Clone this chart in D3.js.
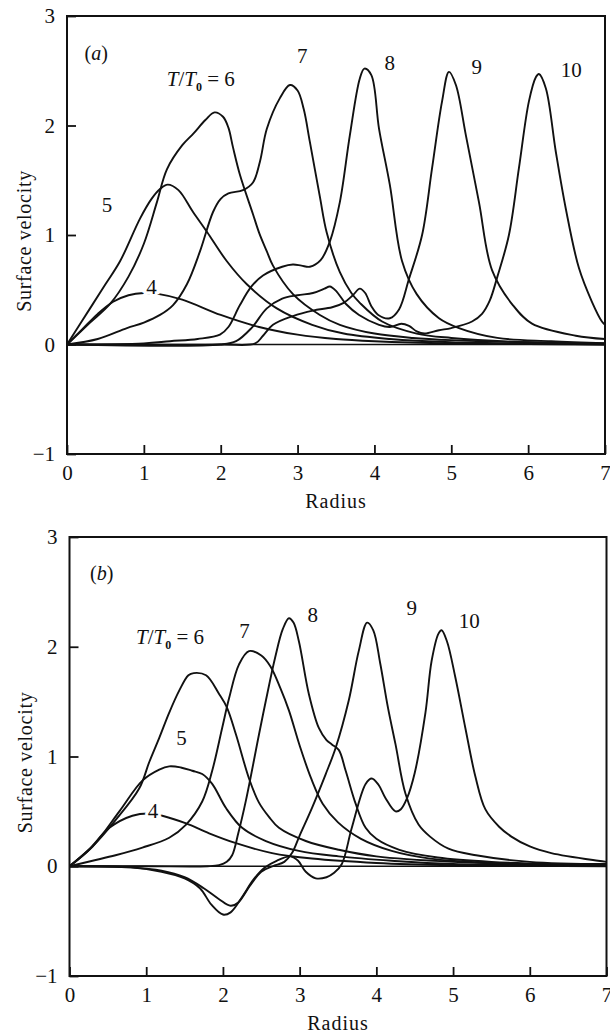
<!DOCTYPE html>
<html>
<head>
<meta charset="utf-8">
<script src="https://cdn.jsdelivr.net/npm/d3@7"></script>
<style>
  html, body { margin: 0; padding: 0; background: #fff; }
  svg { display: block; }
  text { font-family: "Liberation Serif", "Times New Roman", serif; fill: #111; }
</style>
</head>
<body>
<svg id="chart" width="610" height="1035"></svg>
<script>
// Axis ticks shared by both panels
const radiusTicks = [0, 1, 2, 3, 4, 5, 6, 7];
const velocityTicks = [-1, 0, 1, 2, 3];

// Panel (a): surface velocity profiles, [radius, velocity]
const a4 = [[0,0],[0.2,0.14],[0.4,0.28],[0.6,0.39],[0.8,0.45],[1.0,0.47],[1.2,0.46],[1.5,0.41],[2.0,0.27],[2.5,0.16],[3.0,0.09],[3.5,0.05],[4.0,0.03],[5.0,0.01],[6.0,0.005],[7.0,0]];
const a5 = [[0,0],[0.3,0.33],[0.5,0.55],[0.69,0.76],[0.95,1.15],[1.1,1.33],[1.21,1.42],[1.31,1.46],[1.45,1.41],[1.64,1.21],[1.82,1.03],[2.08,0.76],[2.34,0.55],[2.73,0.33],[3.19,0.18],[3.6,0.1],[4.2,0.05],[5.0,0.02],[6,0.01],[7,0]];
const a6 = [[0,0],[0.3,0.2],[0.56,0.37],[0.8,0.62],[1.0,0.92],[1.17,1.3],[1.3,1.6],[1.5,1.82],[1.65,1.93],[1.8,2.05],[1.92,2.12],[2.03,2.08],[2.1,1.98],[2.16,1.8],[2.25,1.55],[2.42,1.19],[2.5,1.02],[2.6,0.85],[2.68,0.72],[2.94,0.46],[3.29,0.27],[3.55,0.18],[4.0,0.1],[4.5,0.06],[5,0.04],[6,0.02],[7,0.01]];
const a7 = [[0,0],[0.4,0.05],[0.78,0.15],[1.0,0.2],[1.21,0.27],[1.38,0.36],[1.56,0.55],[1.73,0.85],[1.9,1.21],[2.0,1.33],[2.1,1.38],[2.29,1.41],[2.42,1.48],[2.51,1.67],[2.6,1.97],[2.77,2.25],[2.9,2.37],[3.0,2.32],[3.08,2.15],[3.16,1.85],[3.29,1.35],[3.38,1.02],[3.55,0.66],[3.7,0.47],[3.81,0.38],[4.1,0.21],[4.55,0.1],[5.0,0.06],[6,0.02],[7,0.01]];
const a8 = [[0,0],[1.0,0.01],[1.34,0.03],[1.7,0.05],[1.99,0.09],[2.1,0.16],[2.25,0.36],[2.4,0.53],[2.55,0.63],[2.8,0.71],[2.94,0.73],[3.05,0.72],[3.16,0.71],[3.3,0.77],[3.42,0.94],[3.55,1.3],[3.68,1.91],[3.81,2.43],[3.87,2.52],[3.96,2.46],[4.06,1.97],[4.2,1.46],[4.36,0.76],[4.55,0.46],[4.84,0.24],[5.1,0.15],[5.6,0.06],[6.3,0.03],[7,0.01]];
const a9 = [[0,0],[2.0,0.0],[2.45,0.01],[2.55,0.08],[2.68,0.18],[2.94,0.26],[3.2,0.31],[3.45,0.34],[3.6,0.38],[3.72,0.45],[3.81,0.51],[3.88,0.47],[3.96,0.35],[4.05,0.27],[4.2,0.24],[4.32,0.32],[4.45,0.6],[4.62,1.0],[4.75,1.61],[4.88,2.22],[4.97,2.49],[5.06,2.37],[5.19,1.91],[5.36,1.3],[5.53,0.68],[5.8,0.36],[6.05,0.19],[6.62,0.08],[7,0.05]];
const a10 = [[0,0],[2.0,0.0],[2.2,0.03],[2.4,0.15],[2.6,0.33],[2.8,0.42],[3.0,0.45],[3.2,0.47],[3.35,0.51],[3.42,0.53],[3.5,0.49],[3.63,0.37],[3.8,0.27],[4.06,0.18],[4.2,0.16],[4.35,0.19],[4.45,0.17],[4.55,0.12],[4.65,0.1],[4.84,0.13],[5.0,0.15],[5.27,0.21],[5.4,0.28],[5.5,0.4],[5.6,0.62],[5.75,1.0],[5.88,1.61],[6.01,2.22],[6.1,2.44],[6.14,2.47],[6.23,2.34],[6.36,1.76],[6.49,1.24],[6.66,0.7],[6.83,0.39],[6.96,0.21],[7.0,0.18]];

// Panel (b): surface velocity profiles, [radius, velocity]
const b4 = [[0,0],[0.25,0.15],[0.52,0.35],[0.82,0.46],[1.05,0.48],[1.21,0.46],[1.52,0.39],[1.82,0.3],[2.17,0.21],[2.64,0.12],[3.16,0.07],[4,0.03],[5,0.01],[7,0]];
const b5 = [[0,0],[0.3,0.18],[0.65,0.5],[0.95,0.78],[1.17,0.88],[1.3,0.91],[1.45,0.9],[1.6,0.87],[1.73,0.84],[1.86,0.75],[2.04,0.53],[2.25,0.35],[2.56,0.23],[2.99,0.14],[3.51,0.09],[4.2,0.05],[5,0.02],[7,0.01]];
const b6 = [[0,0],[0.3,0.18],[0.6,0.42],[0.91,0.71],[1.04,0.95],[1.17,1.17],[1.3,1.4],[1.43,1.6],[1.55,1.74],[1.62,1.76],[1.78,1.74],[1.95,1.57],[2.05,1.45],[2.17,1.2],[2.34,0.8],[2.47,0.58],[2.6,0.45],[2.73,0.35],[3.08,0.23],[3.51,0.15],[4,0.09],[5,0.04],[6,0.02],[7,0.01]];
const b7 = [[0,0],[0.3,0.05],[0.6,0.1],[0.95,0.17],[1.3,0.26],[1.52,0.38],[1.73,0.59],[1.86,0.87],[1.99,1.26],[2.08,1.53],[2.21,1.84],[2.34,1.96],[2.5,1.92],[2.62,1.82],[2.75,1.62],[2.86,1.42],[3.0,1.1],[3.15,0.8],[3.3,0.57],[3.5,0.4],[3.8,0.25],[4.2,0.14],[4.7,0.07],[5.5,0.03],[7,0.01]];
const b8 = [[0,0],[1.0,0.0],[1.8,0.0],[1.95,0.01],[2.05,0.04],[2.12,0.1],[2.2,0.3],[2.3,0.6],[2.47,1.2],[2.56,1.51],[2.68,1.9],[2.78,2.16],[2.86,2.26],[2.92,2.22],[2.99,2.05],[3.12,1.57],[3.25,1.26],[3.35,1.15],[3.42,1.11],[3.51,1.06],[3.6,0.87],[3.73,0.57],[3.86,0.35],[4.0,0.25],[4.3,0.15],[4.8,0.08],[5.5,0.04],[7,0.01]];
const b9 = [[0,0],[0.8,-0.01],[1.2,-0.04],[1.5,-0.1],[1.75,-0.2],[1.95,-0.3],[2.1,-0.36],[2.2,-0.33],[2.35,-0.18],[2.5,-0.05],[2.65,0.0],[2.8,0.04],[2.9,0.12],[3.0,0.28],[3.16,0.53],[3.34,0.84],[3.47,1.08],[3.64,1.51],[3.77,1.96],[3.88,2.22],[3.96,2.15],[4.05,1.85],[4.15,1.45],[4.25,1.11],[4.38,0.66],[4.55,0.38],[4.7,0.27],[4.94,0.16],[5.3,0.1],[6,0.04],[7,0.02]];
const b10 = [[0,0],[0.8,-0.01],[1.2,-0.05],[1.5,-0.11],[1.7,-0.2],[1.85,-0.35],[2.0,-0.44],[2.1,-0.42],[2.25,-0.28],[2.4,-0.12],[2.55,-0.01],[2.7,0.05],[2.88,0.09],[2.98,0.05],[3.08,-0.05],[3.21,-0.11],[3.35,-0.1],[3.45,-0.06],[3.55,0.02],[3.68,0.35],[3.86,0.75],[3.94,0.8],[4.03,0.74],[4.12,0.62],[4.25,0.5],[4.32,0.52],[4.4,0.62],[4.5,0.85],[4.64,1.4],[4.72,1.87],[4.81,2.12],[4.85,2.15],[4.92,2.05],[5.03,1.72],[5.16,1.26],[5.29,0.82],[5.42,0.52],[5.6,0.36],[5.76,0.27],[6.0,0.18],[6.28,0.12],[6.89,0.05],[7,0.04]];

// Curve labels (T/T0 values) and their anchor points in data units
const labelsA = [
  { text: "7",  at: [3.06, 2.64] },
  { text: "8",  at: [4.20, 2.57] },
  { text: "9",  at: [5.33, 2.54] },
  { text: "10", at: [6.56, 2.51] },
  { text: "5",  at: [0.52, 1.28] },
  { text: "4",  at: [1.10, 0.53], halo: true }
];
const labelsB = [
  { text: "7",  at: [2.28, 2.15] },
  { text: "8",  at: [3.17, 2.29] },
  { text: "9",  at: [4.46, 2.36] },
  { text: "10", at: [5.21, 2.24] },
  { text: "5",  at: [1.46, 1.17] },
  { text: "4",  at: [1.09, 0.51], halo: true }
];

const panels = [
  { tag: "a", curves: [a4, a5, a6, a7, a8, a9, a10], labels: labelsA,
    ratioAt: [1.74, 2.43], tagAt: [0.38, 2.66],
    box: { left: 67, right: 605, top: 16, bottom: 454 }, yTitleX: 31, xTitleY: 508 },
  { tag: "b", curves: [b4, b5, b6, b7, b8, b9, b10], labels: labelsB,
    ratioAt: [1.31, 2.09], tagAt: [0.42, 2.67],
    box: { left: 69.5, right: 606.5, top: 537, bottom: 976 }, yTitleX: 32, xTitleY: 1030 }
];

const svg = d3.select("#chart");
const FONT = 20;

panels.forEach(p => {
  const b = p.box;
  const x = d3.scaleLinear().domain([0, 7]).range([b.left, b.right]);
  const y = d3.scaleLinear().domain([-1, 3]).range([b.bottom, b.top]);
  const g = svg.append("g");

  // zero reference line
  g.append("line")
    .attr("x1", x(0)).attr("x2", x(7))
    .attr("y1", y(0)).attr("y2", y(0))
    .attr("stroke", "#111").attr("stroke-width", 1.6);

  // profiles
  const line = d3.line()
    .x(d => x(d[0])).y(d => y(d[1]))
    .curve(d3.curveCatmullRom.alpha(0.5));
  g.selectAll("path.profile").data(p.curves).join("path")
    .attr("class", "profile")
    .attr("d", line)
    .attr("fill", "none")
    .attr("stroke", "#111")
    .attr("stroke-width", 1.9)
    .attr("stroke-linejoin", "round");

  // axes with inward ticks
  const yAxis = d3.axisLeft(y).tickValues(velocityTicks)
    .tickSize(-9).tickSizeOuter(0).tickPadding(12)
    .tickFormat(d3.format("d"));
  const gy = g.append("g").attr("transform", `translate(${b.left},0)`).call(yAxis);
  const xAxis = d3.axisBottom(x).tickValues(radiusTicks)
    .tickSize(-9).tickSizeOuter(0).tickPadding(11)
    .tickFormat(d3.format("d"));
  const gx = g.append("g").attr("transform", `translate(0,${b.bottom})`).call(xAxis);
  [gy, gx].forEach(a => {
    a.select(".domain").remove();
    a.selectAll(".tick line").attr("stroke", "#111").attr("stroke-width", 1.8);
    a.selectAll(".tick text")
      .style("font-family", '"Liberation Serif", serif')
      .style("font-size", "21px")
      .attr("fill", "#111");
  });

  // frame
  g.append("rect")
    .attr("x", b.left).attr("y", b.top)
    .attr("width", b.right - b.left).attr("height", b.bottom - b.top)
    .attr("fill", "none").attr("stroke", "#111").attr("stroke-width", 2);

  // axis titles
  g.append("text")
    .attr("transform", `translate(${p.yTitleX},${(b.top + b.bottom) / 2 + 6}) rotate(-90)`)
    .attr("text-anchor", "middle")
    .style("font-size", FONT + "px")
    .style("letter-spacing", "0.7px")
    .text("Surface velocity");
  g.append("text")
    .attr("x", (b.left + b.right) / 2).attr("y", p.xTitleY)
    .attr("text-anchor", "middle")
    .style("font-size", FONT + "px")
    .style("letter-spacing", "1px")
    .text("Radius");

  // panel tag (a)/(b)
  const tag = g.append("text")
    .attr("x", x(p.tagAt[0])).attr("y", y(p.tagAt[1]))
    .attr("text-anchor", "middle").attr("dy", "0.35em")
    .style("font-size", FONT + "px");
  tag.append("tspan").text("(");
  tag.append("tspan").style("font-style", "italic").text(p.tag);
  tag.append("tspan").text(")");

  // T/T0 = 6 label
  const ratio = g.append("text")
    .attr("x", x(p.ratioAt[0])).attr("y", y(p.ratioAt[1]))
    .attr("text-anchor", "middle").attr("dy", "0.35em")
    .style("font-size", "21px");
  ratio.append("tspan").style("font-style", "italic").text("T");
  ratio.append("tspan").text("/");
  ratio.append("tspan").style("font-style", "italic").text("T");
  ratio.append("tspan").attr("dy", 5).style("font-size", "12px").style("font-weight", "bold").text("0");
  ratio.append("tspan").attr("dy", -5).text(" = 6");

  // curve labels
  g.selectAll("text.curve-label").data(p.labels).join("text")
    .attr("class", "curve-label")
    .attr("x", d => x(d.at[0])).attr("y", d => y(d.at[1]))
    .attr("text-anchor", "middle").attr("dy", "0.35em")
    .style("font-size", "21px")
    .attr("stroke", d => d.halo ? "#fff" : "none")
    .attr("stroke-width", d => d.halo ? 6 : 0)
    .style("paint-order", "stroke")
    .text(d => d.text);
});
</script>
</body>
</html>
